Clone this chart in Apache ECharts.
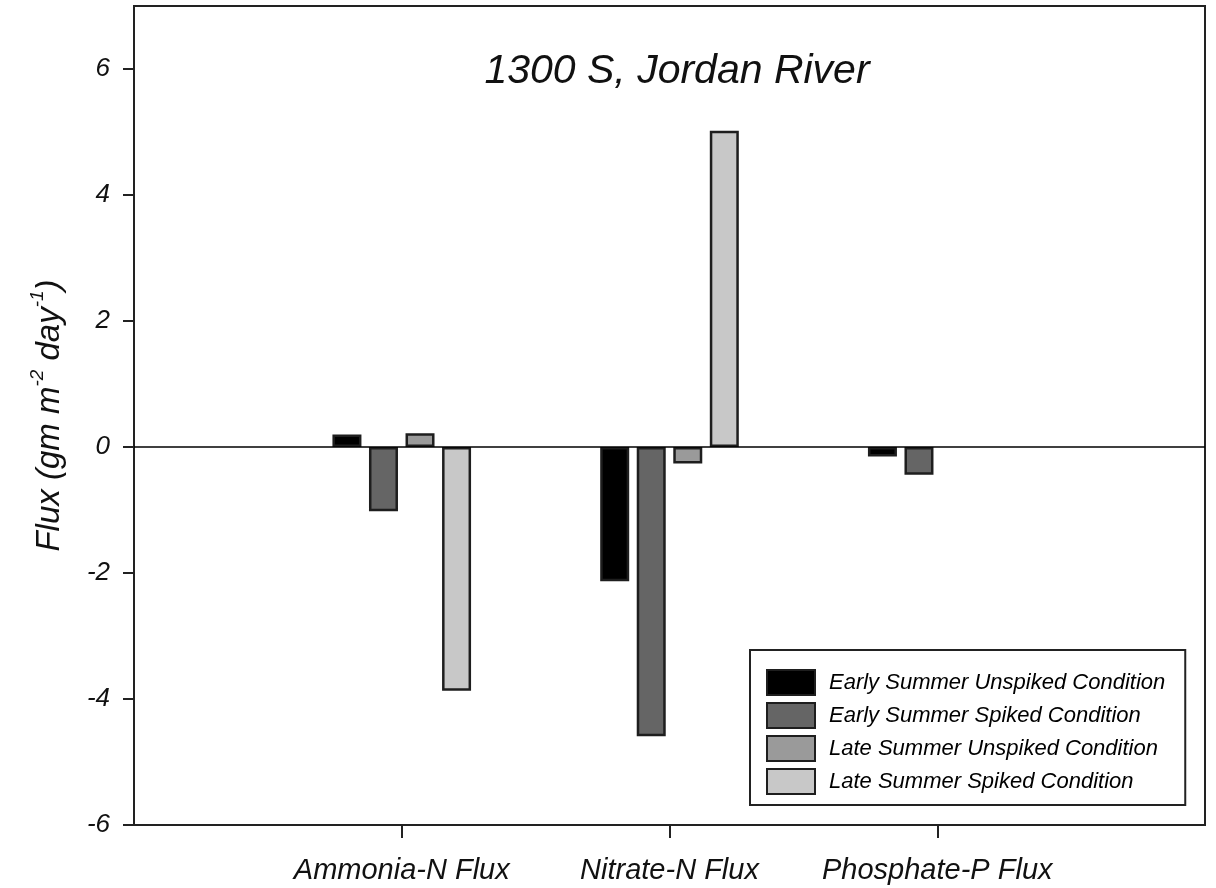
<!DOCTYPE html>
<html>
<head>
<meta charset="utf-8">
<script src="https://cdn.jsdelivr.net/npm/echarts@6/dist/echarts.min.js"></script>
<style>
html,body{margin:0;padding:0;background:#fff;}
#chart{width:1216px;height:888px;}
</style>
</head>
<body>
<div id="chart"></div>
<script>
// ---- data ----
const categories = ['', 'Ammonia-N Flux', 'Nitrate-N Flux', 'Phosphate-P Flux', ''];
const seriesNames = [
  'Early Summer Unspiked Condition',
  'Early Summer Spiked Condition',
  'Late Summer Unspiked Condition',
  'Late Summer Spiked Condition'
];
const earlyUnspiked = [null, 0.2, -2.13, -0.15, null];
const earlySpiked   = [null, -1.02, -4.59, -0.44, null];
const lateUnspiked  = [null, 0.22, -0.26, null, null];
const lateSpiked    = [null, -3.87, 5.02, null, null];
const yTicks = { min: -6, max: 7, interval: 2 };
const titleText = '1300 S, Jordan River';

const colors = ['#000000', '#656565', '#9a9a9a', '#c8c8c8'];
const FONT = "'Liberation Sans', Arial, sans-serif";
const seriesData = [earlyUnspiked, earlySpiked, lateUnspiked, lateSpiked];

const chart = echarts.init(document.getElementById('chart'), null, {renderer: 'canvas'});

const series = seriesData.map((d, i) => {
  const s = {
    name: seriesNames[i],
    type: 'bar',
    data: d,
    barWidth: 29,
    barGap: '26%',
    itemStyle: { color: colors[i], borderColor: '#1e1e1e', borderWidth: 2.5 },
    emphasis: { disabled: true }
  };
  if (i === 0) {
    s.markLine = {
      silent: true,
      symbol: 'none',
      label: { show: false },
      lineStyle: { color: '#000', width: 1.5, type: 'solid' },
      data: [{ yAxis: 0 }],
      z: 10
    };
  }
  return s;
});

chart.setOption({
  animation: false,
  backgroundColor: '#fff',
  title: {
    text: titleText,
    left: 672,
    top: 46,
    textAlign: 'center',
    textStyle: { fontFamily: FONT, fontStyle: 'italic', fontWeight: 'normal', fontSize: 41, color: '#111' }
  },
  grid: {
    left: 134, right: 11, top: 6, bottom: 63,
    show: true, borderColor: '#222', borderWidth: 2, backgroundColor: 'transparent'
  },
  legend: {
    orient: 'vertical',
    left: 750,
    top: 650,
    itemWidth: 48,
    itemHeight: 25,
    itemGap: 6,
    icon: 'rect',
    backgroundColor: '#fff',
    borderColor: '#222',
    borderWidth: 2,
    borderRadius: 0,
    padding: [19, 20, 10, 16],
    selectedMode: false,
    textStyle: { fontFamily: FONT, fontStyle: 'italic', fontSize: 22, color: '#000', padding: [0, 0, 0, 9] },
    data: seriesNames
  },
  xAxis: {
    type: 'category',
    data: categories,
    boundaryGap: false,
    axisLine: { onZero: false, lineStyle: { color: '#222', width: 2 } },
    axisTick: {
      show: true, inside: false, length: 13,
      interval: (idx, val) => val !== '',
      lineStyle: { color: '#222', width: 2 }
    },
    axisLabel: {
      interval: 0, margin: 31,
      fontFamily: FONT, fontStyle: 'italic', fontSize: 29, color: '#111'
    },
    splitLine: { show: false }
  },
  yAxis: {
    type: 'value',
    min: yTicks.min,
    max: yTicks.max,
    interval: yTicks.interval,
    name: '{t|Flux (gm m}{s|-2}{t| day}{s|-1}{t|)}',
    nameLocation: 'middle',
    nameRotate: 90,
    nameGap: 68,
    nameTextStyle: {
      rich: {
        t: { fontFamily: FONT, fontStyle: 'italic', fontSize: 33, color: '#111', lineHeight: 38, verticalAlign: 'bottom' },
        s: { fontFamily: FONT, fontStyle: 'italic', fontSize: 19, color: '#111', lineHeight: 38, verticalAlign: 'top' }
      }
    },
    axisLine: { show: true, lineStyle: { color: '#222', width: 2 } },
    axisTick: { show: true, inside: false, length: 11, lineStyle: { color: '#222', width: 2 } },
    axisLabel: {
      margin: 24, showMaxLabel: false,
      fontFamily: FONT, fontStyle: 'italic', fontSize: 26, color: '#111'
    },
    splitLine: { show: false }
  },
  series: series
});
</script>
</body>
</html>
